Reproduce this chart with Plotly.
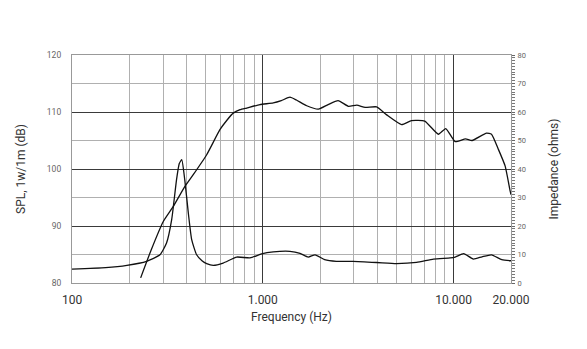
import plotly.graph_objects as go

# SPL response (Hz, dB)
spl_freq = [229, 260, 301, 339, 390, 432, 508, 596, 650, 700, 760, 823, 966, 1135, 1250, 1388,
            1500, 1700, 1956, 2200, 2482, 2810, 3110, 3440, 3950, 4460, 5340, 6020, 7060,
            8330, 9100, 10200, 11550, 12500, 14880, 15800, 17200, 18640, 19800, 20000]
spl_db = [80.9, 85.8, 90.8, 93.4, 96.9, 99.0, 102.5, 106.9, 108.6, 109.8, 110.4, 110.7, 111.3,
          111.6, 112.0, 112.6, 112.1, 111.1, 110.5, 111.3, 112.0, 111.0, 111.2, 110.8, 110.9,
          109.5, 107.8, 108.5, 108.4, 106.1, 107.1, 104.8, 105.3, 105.0, 106.3, 106.1, 103.4,
          100.5, 96.1, 95.5]

# Impedance (Hz, ohms)
imp_freq = [100, 150, 194, 246, 289, 313, 333, 353, 365, 376, 390, 407, 424, 450, 480, 508,
            550, 620, 730, 857, 985, 1135, 1388, 1567, 1730, 1880, 2110, 2430, 2970, 3950,
            5020, 6400, 7850, 9600, 10200, 11300, 12700, 14100, 15800, 17900, 20000]
imp_ohm = [4.9, 5.4, 6.2, 7.6, 9.9, 14.0, 22.2, 36.2, 41.9, 43.3, 36.2, 24.6, 15.2, 9.9, 7.8,
           6.8, 6.2, 7.0, 9.1, 8.8, 10.2, 10.9, 11.1, 10.4, 9.1, 9.9, 8.2, 7.6, 7.6, 7.2, 6.8,
           7.2, 8.4, 8.8, 9.1, 10.3, 8.4, 9.2, 9.9, 8.2, 7.8]

x_tick_vals = [100, 1000, 10000, 20000]
x_tick_text = ["100", "1.000", "10.000", "20.000"]
x_major_grid = [1000, 10000]
x_minor_grid = [200, 300, 400, 500, 600, 700, 800, 900,
                2000, 3000, 4000, 5000, 6000, 7000, 8000, 9000]
y_left_ticks = [80, 90, 100, 110, 120]
y_right_ticks = [0, 10, 20, 30, 40, 50, 60, 70, 80]

FONT = "Roboto, Liberation Sans, sans-serif"
DARK = "#3a3a3a"
LIGHT = "#b0b0b0"

fig = go.Figure()
fig.add_trace(go.Scatter(x=spl_freq, y=spl_db, mode="lines", xaxis="x", yaxis="y",
                         line=dict(color="#111", width=1.3, shape="spline", smoothing=0.5),
                         showlegend=False))
fig.add_trace(go.Scatter(x=imp_freq, y=imp_ohm, mode="lines", xaxis="x", yaxis="y2",
                         line=dict(color="#111", width=1.3, shape="spline", smoothing=0.5),
                         showlegend=False))
fig.add_trace(go.Scatter(x=[100], y=[80], xaxis="x2", yaxis="y", mode="markers",
                         marker=dict(opacity=0), showlegend=False, hoverinfo="skip"))

fig.update_layout(
    width=587, height=349,
    margin=dict(l=64, r=84, t=47, b=74),
    paper_bgcolor="white", plot_bgcolor="white",
    font=dict(family=FONT, color="#333"),
    xaxis=dict(type="log", range=[2, 4.30103], tickvals=x_major_grid, showticklabels=False,
               showgrid=True, gridcolor=DARK, gridwidth=1.3, ticks="", automargin=False,
               minor=dict(tickvals=x_minor_grid, showgrid=True, gridcolor=LIGHT, gridwidth=1, ticks=""),
               showline=True, linecolor="#999", linewidth=1.2, mirror=True, zeroline=False),
    xaxis2=dict(type="log", range=[2, 4.30103], overlaying="x", side="bottom", anchor="y",
                tickvals=x_tick_vals, ticktext=x_tick_text, showgrid=False, ticks="",
                tickfont=dict(size=12, color="#333"), ticklabelstandoff=8, automargin=False,
                title=dict(text="Frequency (Hz)", font=dict(size=12, color="#333"), standoff=6),
                showline=False, zeroline=False),
    yaxis=dict(range=[80, 120], tickvals=y_left_ticks, showgrid=True, gridcolor=DARK, gridwidth=1.3,
               minor=dict(dtick=5, showgrid=True, gridcolor=LIGHT, gridwidth=1, ticks=""),
               ticks="", tickfont=dict(size=8.5, color="#666"), ticklabelstandoff=8, automargin=False,
               title=dict(text="SPL, 1w/1m (dB)", font=dict(size=12, color="#333"), standoff=18),
               showline=True, linecolor="#999", linewidth=1.2, mirror=True, zeroline=False),
    yaxis2=dict(range=[0, 80], overlaying="y", side="right", anchor="x", tickvals=y_right_ticks,
                showgrid=False, ticks="outside", ticklen=3, tickcolor="#666", tickwidth=1,
                minor=dict(dtick=1, ticks="outside", ticklen=3, tickcolor="#777", tickwidth=0.8, showgrid=False),
                tickfont=dict(size=7.5, color="#666"), ticklabelstandoff=1, automargin=False,
                title=dict(text="Impedance (ohms)", font=dict(size=12, color="#333"), standoff=24),
                showline=False, zeroline=False),
)

fig.write_html("out.html")
